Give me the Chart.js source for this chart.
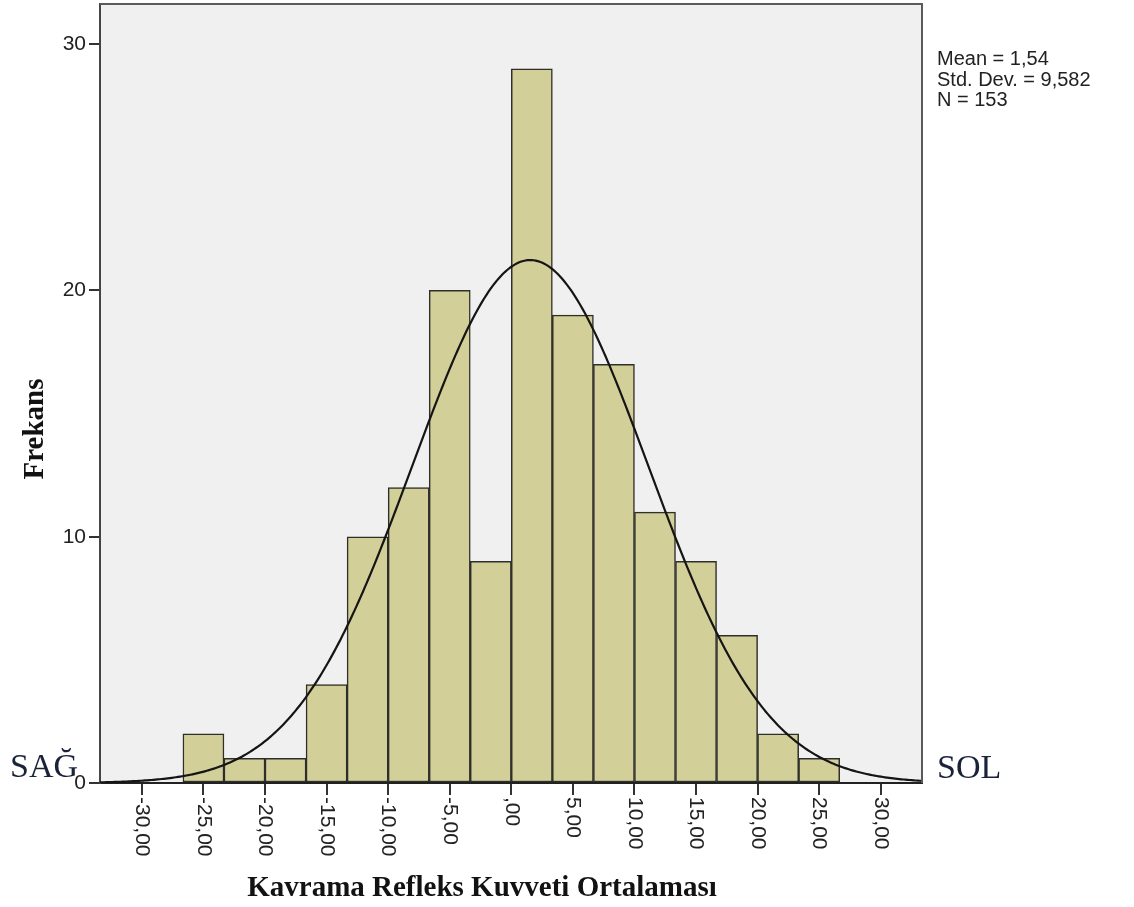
<!DOCTYPE html>
<html>
<head>
<meta charset="utf-8">
<script src="https://cdn.jsdelivr.net/npm/chart.js@4.4.1/dist/chart.umd.min.js"></script>
<style>
  html, body { margin: 0; padding: 0; background: #ffffff; }
  #wrap { width: 1134px; height: 907px; }
</style>
</head>
<body>
<div id="wrap"><canvas id="hist" width="1134" height="907"></canvas></div>
<script>
// Histogram bins (width 10/3) and their frequencies
const binWidth = 10 / 3;
const binCenters = [-25, -21.6667, -18.3333, -15, -11.6667, -8.3333, -5, -1.6667,
                    1.6667, 5, 8.3333, 11.6667, 15, 18.3333, 21.6667, 25];
const frequencies = [2, 1, 1, 4, 10, 12, 20, 9, 29, 19, 17, 11, 9, 6, 2, 1];

// Summary statistics shown beside the plot
const meanValue = 1.54;
const stdDev = 9.582;
const nCount = 153;
const statLines = ["Mean = 1,54", "Std. Dev. = 9,582", "N = 153"];

// Axis ticks
const xTicks = [-30, -25, -20, -15, -10, -5, 0, 5, 10, 15, 20, 25, 30];
const xTickLabels = ["-30,00", "-25,00", "-20,00", "-15,00", "-10,00", "-5,00", ",00",
                     "5,00", "10,00", "15,00", "20,00", "25,00", "30,00"];
const yTicks = [0, 10, 20, 30];

const xMin = -33.4, xMax = 33.35, yMax = 31.63;

// Fitted normal curve scaled to counts per bin
const curvePoints = [];
for (let i = 0; i <= 400; i++) {
  const x = xMin + (xMax - xMin) * i / 400;
  const z = (x - meanValue) / stdDev;
  const y = nCount * binWidth * Math.exp(-0.5 * z * z) / (stdDev * Math.sqrt(2 * Math.PI));
  curvePoints.push({ x: x, y: y });
}

const barData = binCenters.map((c, i) => ({ x: c, y: frequencies[i] }));

const decorations = {
  id: 'decorations',
  beforeDraw(chart) {
    const a = chart.chartArea, ctx = chart.ctx;
    ctx.save();
    ctx.fillStyle = '#f0f0f0';
    ctx.fillRect(a.left, a.top, a.right - a.left, a.bottom - a.top);
    ctx.restore();
  },
  afterDraw(chart) {
    const a = chart.chartArea, ctx = chart.ctx;
    const xs = chart.scales.x;
    ctx.save();
    // top and right frame
    ctx.strokeStyle = '#5a5a5a';
    ctx.lineWidth = 2;
    ctx.beginPath();
    ctx.moveTo(a.left, a.top);
    ctx.lineTo(a.right, a.top);
    ctx.lineTo(a.right, a.bottom);
    ctx.stroke();

    // rotated x tick labels
    ctx.fillStyle = '#222';
    ctx.font = '21px "Liberation Sans", Arial, sans-serif';
    ctx.textAlign = 'left';
    ctx.textBaseline = 'middle';
    xTicks.forEach((v, i) => {
      const px = xs.getPixelForValue(v);
      ctx.save();
      ctx.translate(px, a.bottom + 14);
      ctx.rotate(Math.PI / 2);
      ctx.fillText(xTickLabels[i], 0, 0);
      ctx.restore();
    });

    // axis titles
    ctx.fillStyle = '#121212';
    ctx.font = 'bold 29px "Liberation Serif", "Times New Roman", serif';
    ctx.textAlign = 'center';
    ctx.textBaseline = 'alphabetic';
    ctx.fillText('Kavrama Refleks Kuvveti Ortalaması', 482, 896);
    ctx.save();
    ctx.translate(43, 429);
    ctx.rotate(-Math.PI / 2);
    ctx.fillText('Frekans', 0, 0);
    ctx.restore();

    // side labels
    ctx.fillStyle = '#1a2238';
    ctx.font = '34px "Liberation Serif", "Times New Roman", serif';
    ctx.textAlign = 'left';
    ctx.fillText('SAĞ', 10, 777);
    ctx.fillText('SOL', 937, 778);

    // statistics
    ctx.fillStyle = '#222';
    ctx.font = '20px "Liberation Sans", Arial, sans-serif';
    statLines.forEach((t, i) => ctx.fillText(t, 937, 65 + i * 20.5));
    ctx.restore();
  }
};

new Chart(document.getElementById('hist'), {
  type: 'bar',
  data: {
    datasets: [
      {
        type: 'line',
        data: curvePoints,
        borderColor: '#151515',
        borderWidth: 2.2,
        pointRadius: 0,
        fill: false,
        tension: 0,
        order: 0
      },
      {
        type: 'bar',
        data: barData,
        backgroundColor: '#d3cf98',
        borderColor: '#2e2e2a',
        borderWidth: 1.5,
        borderSkipped: false,
        barPercentage: 1,
        categoryPercentage: 1,
        order: 1
      }
    ]
  },
  options: {
    responsive: false,
    animation: false,
    events: [],
    layout: { padding: { top: 4, right: 212, left: 0, bottom: 0 } },
    plugins: { legend: { display: false }, tooltip: { enabled: false } },
    scales: {
      x: {
        type: 'linear',
        min: xMin,
        max: xMax,
        offset: false,
        afterBuildTicks: s => { s.ticks = xTicks.map(v => ({ value: v })); },
        afterFit: s => { s.height = 124; s.paddingLeft = 0; s.paddingRight = 0; },
        ticks: { display: false },
        grid: { offset: false, drawOnChartArea: false, drawTicks: true, tickLength: 12, color: '#333', lineWidth: 2 },
        border: { display: true, color: '#222', width: 2 }
      },
      y: {
        type: 'linear',
        min: 0,
        max: yMax,
        afterBuildTicks: s => { s.ticks = yTicks.map(v => ({ value: v })); },
        afterFit: s => { s.width = 100; s.paddingTop = 0; s.paddingBottom = 0; },
        ticks: {
          color: '#222',
          padding: 3,
          font: { family: '"Liberation Sans", Arial, sans-serif', size: 21 }
        },
        grid: { drawOnChartArea: false, drawTicks: true, tickLength: 11, color: '#333', lineWidth: 2 },
        border: { display: true, color: '#444', width: 2 }
      }
    }
  },
  plugins: [decorations]
});
</script>
</body>
</html>
